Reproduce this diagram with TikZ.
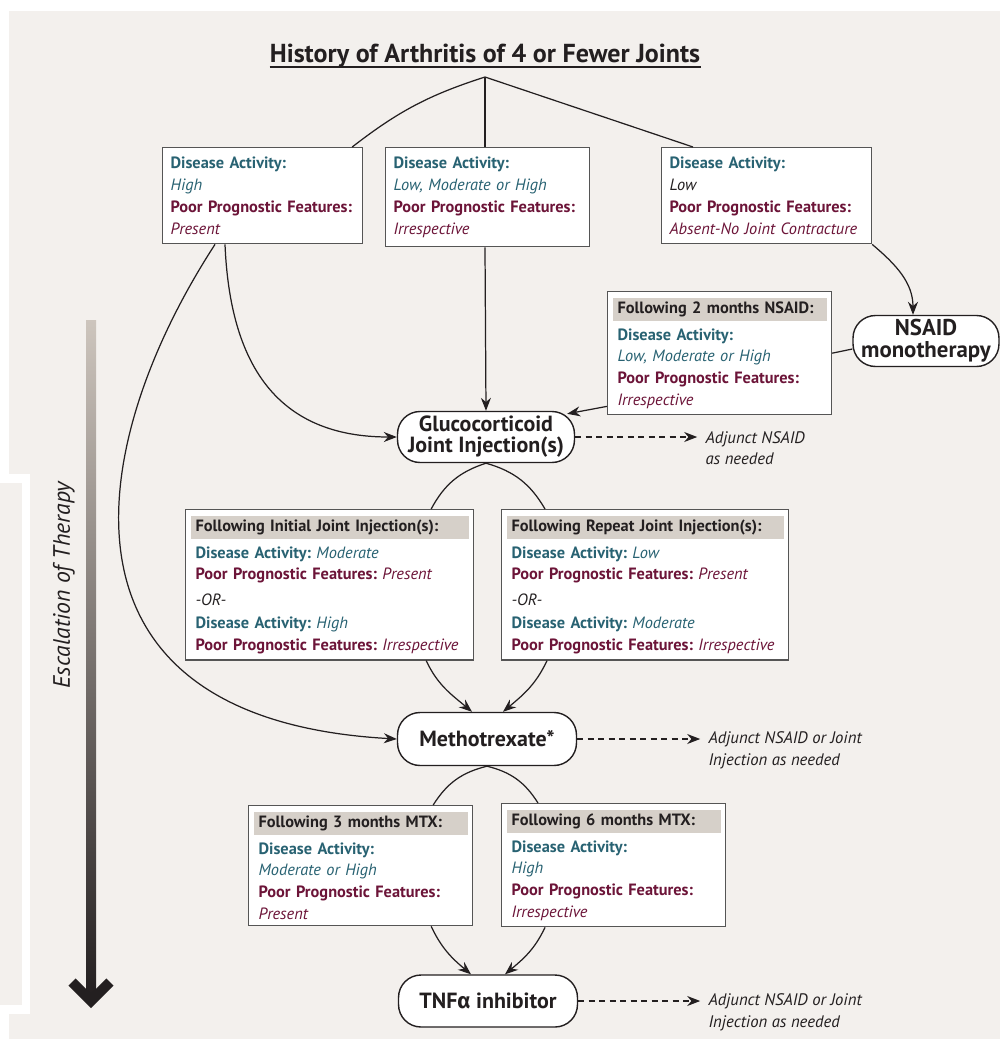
\documentclass[tikz,border=0pt]{standalone}
\usepackage{fontspec}
\setmainfont{PT Sans}
\newfontfamily\greekfont{Fira Sans}
\usetikzlibrary{arrows.meta,calc,positioning}
\hyphenpenalty=10000
\exhyphenpenalty=10000

\definecolor{bgbeige}{RGB}{243,240,237}
\definecolor{actcol}{RGB}{40,98,114}
\definecolor{progcol}{RGB}{108,20,56}
\definecolor{hdrgray}{RGB}{214,208,201}
\definecolor{inkdark}{RGB}{35,31,32}
\definecolor{boxline}{RGB}{85,85,85}
\definecolor{ramptop}{RGB}{205,197,189}

\newcommand{\act}{{\color{actcol}\bfseries Disease~Activity:}}
\newcommand{\actv}[1]{{\color{actcol}\itshape #1}}
\newcommand{\prog}{{\color{progcol}\bfseries Poor~Prognostic~Features:}}
\newcommand{\progv}[1]{{\color{progcol}\itshape #1}}
\newcommand{\orline}{{\color{inkdark}\itshape -OR-}}
\newcommand{\hdr}[1]{\setlength{\fboxsep}{0pt}\hspace*{-0.1cm}\colorbox{hdrgray}{\parbox[c][0.46cm][c]{\dimexpr\hsize+0.2cm\relax}{\hspace*{0.1cm}\color{inkdark}\bfseries #1}}}

\begin{document}
\begin{tikzpicture}[
    x=0.02cm, y=0.02cm,
    infobox/.style={draw=boxline, line width=0.7pt, fill=white, align=left, anchor=north west,
        inner xsep=0.16cm, inner ysep=0.19cm, font=\fontsize{9.3}{12.4}\selectfont},
    followbox/.style={infobox, inner xsep=0.2cm, inner ysep=0.12cm},
    therapy/.style={draw=inkdark, line width=0.8pt, fill=white, rounded corners=0.45cm, align=center,
        inner sep=0pt, text=inkdark, font=\fontsize{12.5}{12}\selectfont\bfseries},
    arrow/.style={-{Stealth[length=0.26cm,width=0.2cm]}, line width=0.7pt, draw=inkdark},
    link/.style={line width=0.7pt, draw=inkdark},
    dasharrow/.style={arrow, dash pattern=on 0.12cm off 0.09cm},
    adjunct/.style={align=left, anchor=west, inner sep=0pt, text=inkdark,
        font=\fontsize{9.5}{12.3}\selectfont\itshape}
]
    \useasboundingbox (0,0) rectangle (1000,-1039);

    % background and side bracket
    \fill[bgbeige] (9,-11) rectangle (1000,-1039);
    \fill[bgbeige] (0,-483) rectangle (22,-1005);
    \fill[white] (0,-474) rectangle (30,-483);
    \fill[white] (22,-483) rectangle (30,-1005);
    \fill[white] (0,-1005) rectangle (30,-1014);

    % Escalation of therapy
    \shade[top color=ramptop, bottom color=inkdark] (86,-320) rectangle (96,-996);
    \draw[inkdark, line width=0.2cm] (72,-982) -- (91,-1001) -- (110,-982);
    \node[rotate=90, text=inkdark, font=\fontsize{13.5}{15}\selectfont\itshape] (esc) at (64,-585) {Escalation of Therapy};

    % Title
    \node[anchor=base, inner sep=0pt, text=inkdark, font=\fontsize{14.8}{17}\selectfont\bfseries] (title) at (485,-62) {History of Arthritis of 4 or Fewer Joints};
    \draw[line width=0.9pt, inkdark] ($(title.base west)+(0,-5)$) -- ($(title.base east)+(0,-5)$);
    \coordinate (split) at (485,-77);

    % Starting boxes
    \node[infobox, text width=3.68cm] (high) at (162,-147) {\act\\ \actv{High}\\ \prog\\ \progv{Present}};
    \node[infobox, text width=3.76cm] (any) at (385,-147) {\act\\ \actv{Low, Moderate or High}\\ \prog\\ \progv{Irrespective}};
    \node[infobox, text width=3.88cm] (low) at (661,-147) {\act\\ {\color{inkdark}\itshape Low}\\ \prog\\ \progv{Absent-No~Joint~Contracture}};

    % Therapies
    \node[therapy, minimum width=2.92cm, minimum height=1.02cm, font=\fontsize{13}{12.5}\selectfont\bfseries] (nsaid) at (926,-341) {NSAID\\monotherapy};
    \node[therapy, minimum width=3.54cm, minimum height=1.02cm] (gluco) at (486,-437) {Glucocorticoid\\Joint Injection(s)};
    \node[therapy, minimum width=3.58cm, minimum height=1.06cm] (mtx) at (487,-739) {Methotrexate*};
    \node[therapy, minimum width=3.58cm, minimum height=1.04cm] (tnf) at (488,-1001) {TNF{\greekfont α} inhibitor};

    % Follow-up boxes
    \node[followbox, text width=4.08cm] (after2) at (607,-291) {\hdr{Following 2 months NSAID:}\\[3pt] \act\\ \actv{Low, Moderate or High}\\ \prog\\ \progv{Irrespective}};
    \node[followbox, text width=5.36cm] (initial) at (185,-509) {\hdr{Following Initial Joint Injection(s):}\\[3pt] \act~\actv{Moderate}\\ \prog~\progv{Present}\\[2pt] \orline\\[1pt] \act~\actv{High}\\ \prog~\progv{Irrespective}};
    \node[followbox, text width=5.34cm] (repeat) at (501,-509) {\hdr{Following Repeat Joint Injection(s):}\\[3pt] \act~\actv{Low}\\ \prog~\progv{Present}\\[2pt] \orline\\[1pt] \act~\actv{Moderate}\\ \prog~\progv{Irrespective}};
    \node[followbox, text width=4.08cm] (after3) at (248,-805) {\hdr{Following 3 months MTX:}\\[3pt] \act\\ \actv{Moderate or High}\\ \prog\\ \progv{Present}};
    \node[followbox, text width=4.08cm] (after6) at (501,-803) {\hdr{Following 6 months MTX:}\\[3pt] \act\\ \actv{High}\\ \prog\\ \progv{Irrespective}};

    % Adjunct notes
    \draw[dasharrow] (gluco.east) -- ++(122,0) coordinate (a1);
    \node[adjunct] (adj1) at ($(a1)+(8,-11)$) {Adjunct NSAID\\as needed};
    \draw[dasharrow] (mtx.east) -- ++(123,0) coordinate (a2);
    \node[adjunct] (adj2) at ($(a2)+(8,-11)$) {Adjunct NSAID or Joint\\Injection as needed};
    \draw[dasharrow] (tnf.east) -- ++(122,0) coordinate (a3);
    \node[adjunct] (adj3) at ($(a3)+(8,-11)$) {Adjunct NSAID or Joint\\Injection as needed};

    % Split from title
    \draw[link] (split) to[bend right=10] ($(high.north east)+(-11,0)$);
    \draw[link] (split) -- (split |- any.north);
    \draw[link] (split) -- ($(low.north west)+(32,0)$);

    % Into glucocorticoid
    \draw[arrow] (split |- any.south) -- (gluco.north);
    \draw[arrow] ($(high.south west)+(63,0)$) .. controls +(5,-120) and +(-120,0) .. (gluco.west);
    \draw[arrow] (low.south east) to[out=-40, in=90] ($(nsaid.north)+(-13,0)$);
    \draw[link] ($(nsaid.west)+(0,-8)$) -- (after2.east);
    \draw[arrow] ($(after2.south west)+(0,9)$) -- ($(gluco.north east)+(-8,-3)$);

    % Glucocorticoid to methotrexate
    \draw[link] (gluco.south) to[bend right=22] ($(initial.north east)+(-43,0)$);
    \draw[link] (gluco.south) to[bend left=22] ($(repeat.north west)+(44,0)$);
    \draw[arrow] ($(initial.south east)+(-48,0)$) to[out=-65, in=140] ($(mtx.north)+(-15,0)$);
    \draw[arrow] ($(repeat.south west)+(46,0)$) to[out=-115, in=40] ($(mtx.north)+(16,0)$);
    \draw[arrow] ($(high.south west)+(53,0)$) .. controls +(-130,-200) and +(-358,20) .. (mtx.west);

    % Methotrexate to TNF inhibitor
    \draw[link] (mtx.south) to[bend right=22] ($(after3.north east)+(-40,0)$);
    \draw[link] (mtx.south) to[bend left=22] ($(after6.north west)+(37,0)$);
    \draw[arrow] ($(after3.south east)+(-42,0)$) to[out=-65, in=140] ($(tnf.north)+(-17,0)$);
    \draw[arrow] ($(after6.south west)+(44,0)$) to[out=-115, in=40] ($(tnf.north)+(17,0)$);

\end{tikzpicture}
\end{document}
